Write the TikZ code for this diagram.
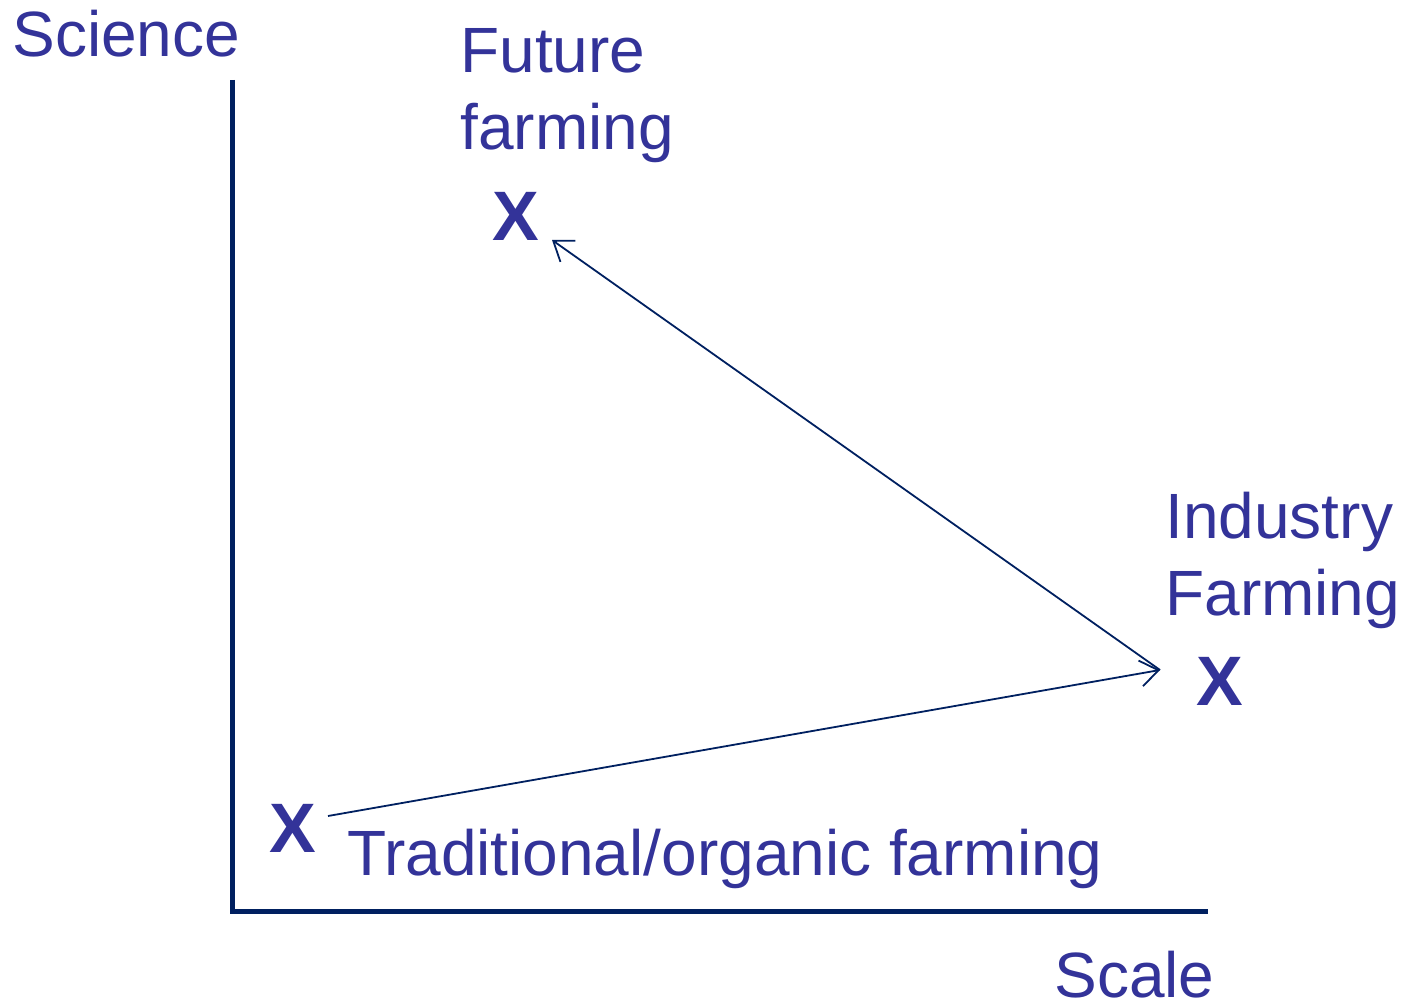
\documentclass[tikz,border=0pt]{standalone}
\usepackage{fontspec}
\setmainfont{Liberation Sans}
\usetikzlibrary{arrows.meta}
\definecolor{txt}{HTML}{333399}
\definecolor{axis}{HTML}{002060}
\begin{document}
\begin{tikzpicture}[x=0.5pt,y=-0.5pt,
  lbl/.style={text=txt,inner sep=0pt,anchor=base west,align=left,font=\fontsize{32}{38.5}\selectfont},
  xmark/.style={text=txt,inner sep=0pt,anchor=base,font=\fontsize{35}{40}\selectfont\bfseries},
  axisline/.style={draw=axis,line width=2.5pt},
  conn/.style={draw=axis,line width=0.9pt,-{Straight Barb[length=9pt,width=13pt,line width=0.9pt]}}]
\useasboundingbox (0,0) rectangle (1402,1005);
% axes
\coordinate (top) at (232,80);
\coordinate (origin) at (232,911);
\coordinate (right) at (1208,911);
\draw[axisline] (top) -- (origin) -- (right);
% axis labels
\node[lbl] (science) at (12,57) {Science};
\node[lbl] (scale) at (1054,997) {Scale};
% points
\node[xmark] (fx) at (516,241) {X};
\node[xmark] (ix) at (1220,705) {X};
\node[xmark] (tx) at (293,852) {X};
% labels
\node[lbl] (future) at (460,150) {Future\\farming};
\node[lbl] (industry) at (1165,615) {Industry\\Farming};
\node[lbl] (trad) at (347,875) {Traditional/organic farming};
% connectors
\coordinate (tstart) at (328,816);
\coordinate (iend) at (1160,670);
\coordinate (fend) at (552,240);
\draw[conn] (tstart) -- (iend);
\draw[conn] (iend) -- (fend);
\end{tikzpicture}
\end{document}
